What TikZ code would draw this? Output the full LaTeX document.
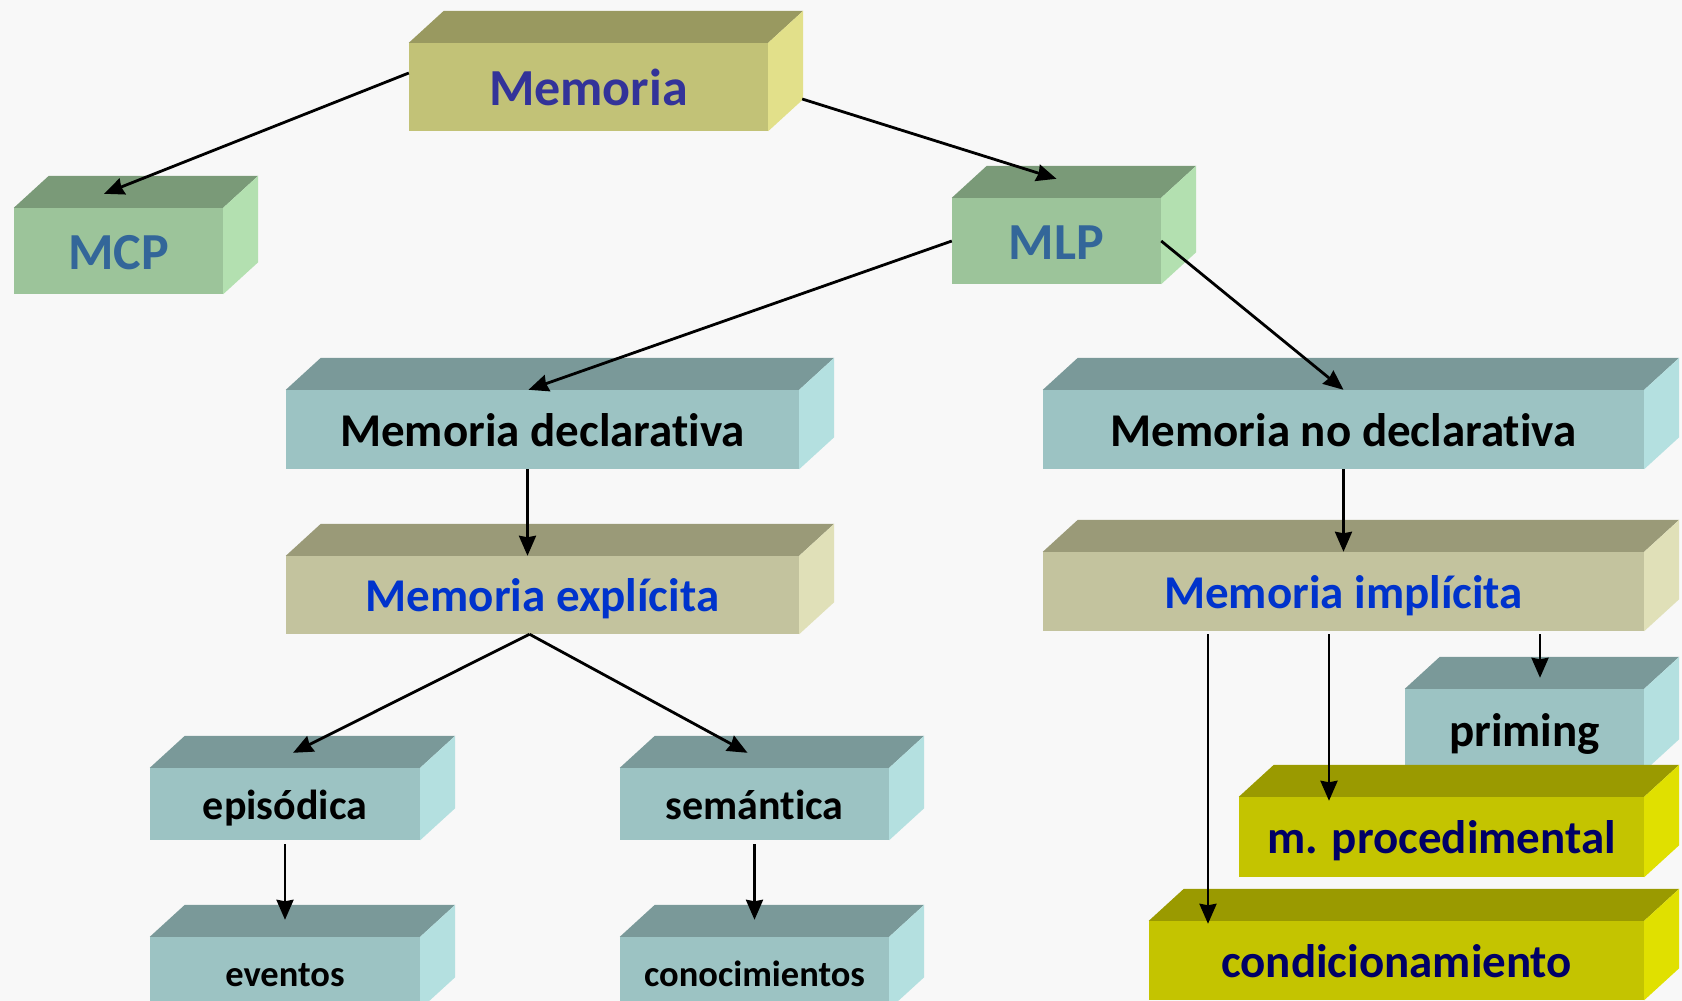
\documentclass[tikz,border=0pt]{standalone}
\usepackage{fontspec}
\setmainfont{Carlito}[Ligatures=NoCommon]
\usepackage{tikz}
\usetikzlibrary{arrows.meta}

\definecolor{fondo}{HTML}{F8F8F8}
\definecolor{olivaF}{HTML}{C2C277}
\definecolor{olivaT}{HTML}{999960}
\definecolor{olivaL}{HTML}{E2E08A}
\definecolor{verdeF}{HTML}{9CC49A}
\definecolor{verdeT}{HTML}{7A9A78}
\definecolor{verdeL}{HTML}{B3E0B0}
\definecolor{cianF}{HTML}{9CC3C3}
\definecolor{cianT}{HTML}{7A9999}
\definecolor{cianL}{HTML}{B4E0E0}
\definecolor{caquiF}{HTML}{C3C39E}
\definecolor{caquiT}{HTML}{9A9A78}
\definecolor{caquiL}{HTML}{E0E0B8}
\definecolor{amarF}{HTML}{C4C400}
\definecolor{amarT}{HTML}{9A9A00}
\definecolor{amarL}{HTML}{E0E000}
\definecolor{txtMem}{HTML}{333399}
\definecolor{txtVerde}{HTML}{336699}
\definecolor{txtAzul}{HTML}{0033CC}
\definecolor{txtNavy}{HTML}{000066}

% top face and side face of a block, drawn from the front node
\newcommand\caras[3]{%
  \fill[#2] (#1.north west) -- ++(35,-32) -- ([shift={(35,-32)}]#1.north east) -- (#1.north east) -- cycle;
  \fill[#3] (#1.north east) -- ++(35,-32) -- ([shift={(35,-32)}]#1.south east) -- (#1.south east) -- cycle;
}

\begin{document}
\begin{tikzpicture}[x=1pt,y=-1pt,
                    flecha/.style={-{Stealth[length=20pt,width=17pt,inset=1.5pt]},line width=2.8pt,black},
                    caja/.style={inner sep=0pt,align=center}]
\tikzset{grande/.style={font=\fontsize{52}{60}\selectfont\bfseries,text height=38.5pt,text depth=1pt},
         media/.style={font=\fontsize{47}{56}\selectfont\bfseries,text height=34.8pt,text depth=0.9pt},
         chica/.style={font=\fontsize{42}{50}\selectfont\bfseries,text height=31.1pt,text depth=0.8pt},
         mini/.style={font=\fontsize{36.5}{44}\selectfont\bfseries,text height=27pt,text depth=0.7pt}}

\useasboundingbox[fill=fondo] (0,0) rectangle (1682,1001);

        \node[caja,grande,fill=olivaF,text=txtMem,minimum width=359pt,minimum height=88pt]   (mem)  at (588.5,87)   {Memoria};
        \caras{mem}{olivaT}{olivaL}

        \node[caja,grande,fill=verdeF,text=txtVerde,minimum width=209pt,minimum height=86pt] (mcp)  at (118.5,251)  {MCP};
        \caras{mcp}{verdeT}{verdeL}

        \node[caja,grande,fill=verdeF,text=txtVerde,minimum width=209pt,minimum height=86pt] (mlp)  at (1056.5,241) {MLP};
        \caras{mlp}{verdeT}{verdeL}

        \node[caja,media,fill=cianF,text=black,minimum width=513pt,minimum height=79pt]      (decl)   at (542.5,429.5)  {Memoria declarativa};
        \caras{decl}{cianT}{cianL}

        \node[caja,media,fill=cianF,text=black,minimum width=601pt,minimum height=79pt]      (nodecl) at (1343.5,429.5) {Memoria no declarativa};
        \caras{nodecl}{cianT}{cianL}

        \node[caja,media,fill=caquiF,text=txtAzul,minimum width=513pt,minimum height=78pt]   (expl)   at (542.5,595)    {Memoria explícita};
        \caras{expl}{caquiT}{caquiL}

        \node[caja,media,fill=caquiF,text=txtAzul,minimum width=601pt,minimum height=79pt]   (impl)   at (1343.5,591.5) {Memoria implícita};
        \caras{impl}{caquiT}{caquiL}

        \node[caja,chica,fill=cianF,text=black,minimum width=270pt,minimum height=72pt]      (epi) at (285,804)   {episódica};
        \caras{epi}{cianT}{cianL}

        \node[caja,chica,fill=cianF,text=black,minimum width=269pt,minimum height=72pt]      (sem) at (754.5,804) {semántica};
        \caras{sem}{cianT}{cianL}

        \node[caja,mini,fill=cianF,text=black,minimum width=270pt,minimum height=72pt]       (eve) at (285,973)   {eventos};
        \caras{eve}{cianT}{cianL}

        \node[caja,mini,fill=cianF,text=black,minimum width=269pt,minimum height=72pt]       (con) at (754.5,973) {conocimientos};
        \caras{con}{cianT}{cianL}

        \node[caja,media,fill=cianF,text=black,minimum width=239pt,minimum height=82pt]      (pri)  at (1524.5,730)  {priming};
        \caras{pri}{cianT}{cianL}

        \node[caja,media,fill=amarF,text=txtNavy,minimum width=405pt,minimum height=80pt]    (proc) at (1441.5,837)  {m. procedimental};
        \caras{proc}{amarT}{amarL}

        \node[caja,media,fill=amarF,text=txtNavy,minimum width=495pt,minimum height=79pt]    (cond) at (1396.5,960.5) {condicionamiento};
        \caras{cond}{amarT}{amarL}

        % connectors
        \draw[flecha] ([yshift=14pt]mem.west)             -- ([xshift=-14.5pt,yshift=14pt]mcp.north);
        \draw[flecha] ([xshift=34pt,yshift=-12pt]mem.east) -- ([yshift=19pt]mlp.north);
        \draw[flecha] (mlp.west)                           -- ([xshift=-14pt]decl.north);
        \draw[flecha] (mlp.east)                           -- (nodecl.north);
        \draw[flecha] ([xshift=-15pt]decl.south)           -- ([xshift=-15pt]expl.north);
        \draw[flecha] (nodecl.south)                       -- (impl.north);
        \draw[flecha] ([xshift=-13pt]expl.south)           -- ([xshift=8pt,yshift=15pt]epi.north);
        \draw[flecha] ([xshift=-13pt]expl.south)           -- ([xshift=-7pt,yshift=15pt]sem.north);
        \draw[flecha] ([yshift=-4pt]epi.south)             -- ([yshift=17pt]eve.north);
        \draw[flecha] ([yshift=-4pt]sem.south)             -- ([yshift=17pt]con.north);
        \draw[flecha] ([xshift=196.5pt,yshift=-3pt]impl.south) -- ([xshift=15.5pt,yshift=11pt]pri.north);
        \draw[flecha] ([xshift=-14.5pt,yshift=-3pt]impl.south) -- ([xshift=-112.5pt,yshift=-4pt]proc.north);
        \draw[flecha] ([xshift=-135.5pt,yshift=-3pt]impl.south) -- ([xshift=-188.5pt,yshift=-3pt]cond.north);

\end{tikzpicture}
\end{document}
